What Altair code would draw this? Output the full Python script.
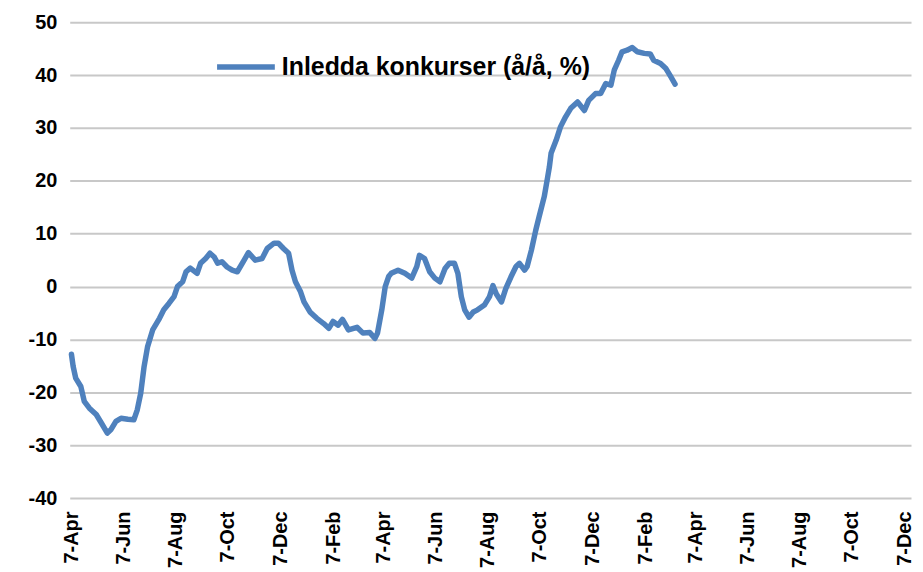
import altair as alt
import pandas as pd

SERIES = "Inledda konkurser (å/å, %)"

dates = [
    "2021-04-07", "2021-04-09", "2021-04-12", "2021-04-18", "2021-04-22", "2021-04-28",
    "2021-05-06", "2021-05-12", "2021-05-19", "2021-05-23", "2021-05-29", "2021-06-04",
    "2021-06-12", "2021-06-19", "2021-06-23", "2021-06-27", "2021-07-01", "2021-07-05",
    "2021-07-11", "2021-07-19", "2021-07-24", "2021-07-30", "2021-08-05", "2021-08-09",
    "2021-08-15", "2021-08-19", "2021-08-24", "2021-09-01", "2021-09-05", "2021-09-11",
    "2021-09-16", "2021-09-21", "2021-09-25", "2021-09-30", "2021-10-06", "2021-10-12",
    "2021-10-18", "2021-10-26", "2021-10-31", "2021-11-08", "2021-11-16", "2021-11-22",
    "2021-11-30", "2021-12-05", "2021-12-11", "2021-12-17", "2021-12-21", "2021-12-25",
    "2021-12-31", "2022-01-04", "2022-01-11", "2022-01-19", "2022-01-27", "2022-02-02",
    "2022-02-07", "2022-02-13", "2022-02-18", "2022-02-25", "2022-03-07", "2022-03-14",
    "2022-03-22", "2022-03-28", "2022-03-31", "2022-04-05", "2022-04-09", "2022-04-13",
    "2022-04-16", "2022-04-24", "2022-05-02", "2022-05-10", "2022-05-16", "2022-05-19",
    "2022-05-25", "2022-05-31", "2022-06-06", "2022-06-12", "2022-06-18", "2022-06-23",
    "2022-06-29", "2022-07-03", "2022-07-07", "2022-07-11", "2022-07-16", "2022-07-21",
    "2022-07-26", "2022-08-03", "2022-08-09", "2022-08-13", "2022-08-17", "2022-08-23",
    "2022-08-28", "2022-09-03", "2022-09-09", "2022-09-13", "2022-09-19", "2022-09-22",
    "2022-09-27", "2022-10-02", "2022-10-06", "2022-10-12", "2022-10-16", "2022-10-18",
    "2022-10-20", "2022-10-26", "2022-10-31", "2022-11-06", "2022-11-12", "2022-11-20",
    "2022-11-28", "2022-12-03", "2022-12-11", "2022-12-17", "2022-12-23", "2022-12-29",
    "2023-01-02", "2023-01-07", "2023-01-11", "2023-01-17", "2023-01-23", "2023-01-29",
    "2023-02-06", "2023-02-13", "2023-02-17", "2023-02-25", "2023-03-03", "2023-03-09",
    "2023-03-14",
]

values = [
    -12.8, -15.1, -17.3, -18.9, -21.7, -23.0,
    -24.2, -25.8, -27.7, -27.1, -25.5, -24.9,
    -25.1, -25.2, -23.3, -20.2, -15.1, -11.4,
    -8.2, -6.0, -4.4, -3.2, -1.9, 0.0,
    0.9, 2.8, 3.5, 2.5, 4.4, 5.3,
    6.3, 5.6, 4.4, 4.7, 3.7, 3.1,
    2.8, 5.0, 6.4, 5.0, 5.3, 7.2,
    8.2, 8.2, 7.2, 6.3, 3.1, 0.9,
    -1.0, -2.9, -4.8, -6.0, -7.0, -7.9,
    -6.6, -7.3, -6.2, -8.2, -7.7, -8.8,
    -8.7, -9.8, -8.8, -4.4, 0.0, 1.9,
    2.5, 3.1, 2.5, 1.6, 3.8, 5.9,
    5.3, 2.8, 1.6, 0.9, 3.4, 4.4,
    4.4, 2.5, -1.9, -4.4, -5.8, -4.8,
    -4.4, -3.5, -1.9, 0.2, -1.4, -2.9,
    -0.4, 1.8, 3.8, 4.4, 3.1, 3.8,
    6.9, 10.6, 13.2, 17.0, 20.7, 22.6,
    25.2, 27.7, 30.2, 32.1, 33.7, 34.9,
    33.3, 35.2, 36.5, 36.5, 38.4, 38.1,
    41.0, 42.8, 44.4, 44.7, 45.2, 44.4,
    44.1, 44.0, 42.8, 42.2, 41.3, 39.7,
    38.3,
]

# x-axis tick dates (every second month, on the 7th)
tick_year_month = [
    (2021, 4), (2021, 6), (2021, 8), (2021, 10), (2021, 12),
    (2022, 2), (2022, 4), (2022, 6), (2022, 8), (2022, 10), (2022, 12),
    (2023, 2), (2023, 4), (2023, 6), (2023, 8), (2023, 10), (2023, 12),
]
y_ticks = [-40, -30, -20, -10, 0, 10, 20, 30, 40, 50]

df = pd.DataFrame({
    "date": pd.to_datetime(dates),
    "value": values,
    "series": SERIES,
})

FONT = "Liberation Sans"

chart = alt.Chart(df).mark_line(
    strokeWidth=5.5, strokeCap="round", strokeJoin="round"
).encode(
    x=alt.X(
        "date:T",
        scale=alt.Scale(domain=[alt.DateTime(year=2021, month=4, date=5),
                                alt.DateTime(year=2023, month=12, date=15)]),
        axis=alt.Axis(
            title=None,
            values=[alt.DateTime(year=y, month=m, date=7) for y, m in tick_year_month],
            format="%-d-%b",
            labelAngle=270,
            labelAlign="right",
            labelBaseline="middle",
            labelPadding=13,
            ticks=False,
            tickSize=0,
            domain=False,
            grid=False,
            labelFont=FONT,
            labelFontSize=20,
            labelFontWeight="bold",
            labelColor="#000000",
            labelOverlap=False,
            labelBound=False,
        ),
    ),
    y=alt.Y(
        "value:Q",
        scale=alt.Scale(domain=[-40, 50], nice=False, zero=False),
        axis=alt.Axis(
            title=None,
            values=y_ticks,
            labelExpr="datum.value < 0 ? '-' + abs(datum.value) : '' + datum.value",
            ticks=False,
            tickSize=0,
            domain=False,
            grid=True,
            gridColor="#C8C8C8",
            gridWidth=2,
            labelPadding=13,
            labelFont=FONT,
            labelFontSize=20,
            labelFontWeight="bold",
            labelColor="#000000",
        ),
    ),
    color=alt.Color(
        "series:N",
        scale=alt.Scale(range=["#4F81BD"]),
        legend=alt.Legend(
            title=None,
            orient="none",
            legendX=145,
            legendY=13,
            symbolType="stroke",
            symbolSize=3364,
            symbolStrokeWidth=5.5,
            symbolStrokeColor="#4F81BD",
            labelOffset=4,
            labelFont=FONT,
            labelFontSize=25,
            labelFontWeight="bold",
            labelColor="#000000",
            labelLimit=0,
            padding=0,
        ),
    ),
).properties(
    width=845,
    height=478,
    autosize=alt.AutoSizeParams(type="none"),
    padding={"left": 62, "top": 13, "right": 4, "bottom": 71},
).configure_view(
    strokeWidth=0
)

chart.save("out.html", embed_options={"renderer": "svg", "actions": False})
